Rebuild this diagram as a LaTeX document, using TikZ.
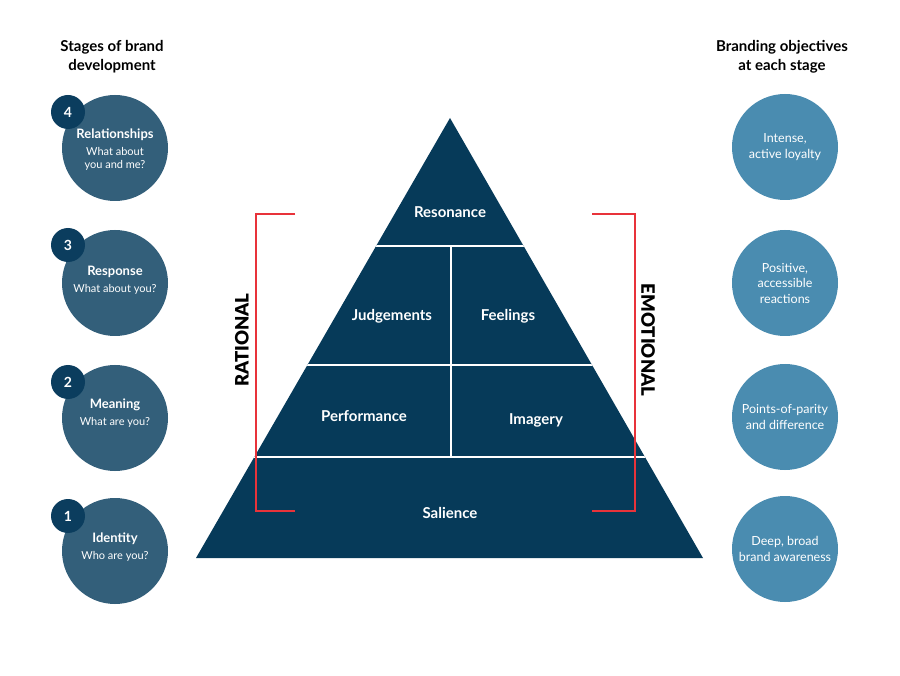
\documentclass[tikz,border=0pt]{standalone}
\usepackage{fontspec}
\setmainfont{Lato}
\newfontfamily\heavyfont{Lato Black}
\definecolor{pyrblue}{HTML}{063A59}
\definecolor{stageblue}{HTML}{335F7A}
\definecolor{numblue}{HTML}{0B3D5E}
\definecolor{goalblue}{HTML}{4A8CB0}
\definecolor{bracketred}{HTML}{E8333A}
\begin{document}
\begin{tikzpicture}[x=1pt,y=-1pt,
  stage/.style={circle,fill=stageblue,minimum size=106pt,inner sep=0pt},
  goal/.style={circle,fill=goalblue,minimum size=106pt,inner sep=0pt,text=white,align=center,font=\fontsize{12.5}{15.5}\selectfont},
  numdot/.style={circle,fill=numblue,minimum size=34pt,inner sep=0pt,text=white,font=\fontsize{14}{16}\selectfont\bfseries},
  stitle/.style={text=white,font=\fontsize{13}{15}\selectfont\bfseries},
  ssub/.style={text=white,align=center,font=\fontsize{11}{13}\selectfont},
  layer/.style={text=white,font=\fontsize{15}{18}\selectfont\bfseries},
  heading/.style={align=center,font=\fontsize{15}{19}\selectfont\bfseries},
  bracket/.style={draw=bracketred,line width=2.5pt},
  side/.style={font=\fontsize{18.5}{22}\selectfont\heavyfont}]
\useasboundingbox[fill=white] (0,0) rectangle (900,676);

\node[heading] (hleft) at (112,57) {Stages of brand\\development};
\node[heading] (hright) at (782,57) {Branding objectives\\at each stage};

\coordinate (top) at (450,118);
\coordinate (br) at (703,558);
\coordinate (bl) at (196,558);
\fill[pyrblue] (top) -- (br) -- (bl) -- cycle;
\begin{scope}
\clip (top) -- (br) -- (bl) -- cycle;
\draw[white,line width=2.5pt] (0,246) -- (900,246);
\draw[white,line width=2.5pt] (0,365) -- (900,365);
\draw[white,line width=2.5pt] (0,457) -- (900,457);
\draw[white,line width=2.5pt] (451,246) -- (451,457);
\end{scope}

\node[layer] (reso) at (450,212) {Resonance};
\node[layer] (judg) at (392,316) {Judgements};
\node[layer] (feel) at (508,316) {Feelings};
\node[layer] (perf) at (364,416) {Performance};
\node[layer] (imag) at (536,420) {Imagery};
\node[layer] (sali) at (450,513) {Salience};

\draw[bracket] (295,214) -- (256,214) -- (256,511) -- (295,511);
\draw[bracket] (592,214) -- (635,214) -- (635,511) -- (592,511);
\node[side,rotate=90] (rat) at (242,340) {RATIONAL};
\node[side,rotate=-90] (emo) at (648,340) {EMOTIONAL};

\node[stage] (s4) at (115,148) {};
\node[stage] (s3) at (115,283) {};
\node[stage] (s2) at (115,418) {};
\node[stage] (s1) at (115,551) {};
\node[numdot] (n4) at (68,112) {4};
\node[numdot] (n3) at (68,245) {3};
\node[numdot] (n2) at (68,382) {2};
\node[numdot] (n1) at (68,516) {1};
\node[stitle] (t4) at (115,135) {Relationships};
\node[ssub] (q4) at (115,158.5) {What about\\you and me?};
\node[stitle] (t3) at (115,272) {Response};
\node[ssub] (q3) at (115,289) {What about you?};
\node[stitle] (t2) at (115,405) {Meaning};
\node[ssub] (q2) at (115,422) {What are you?};
\node[stitle] (t1) at (115,539) {Identity};
\node[ssub] (q1) at (115,556) {Who are you?};

\node[goal] (g4) at (785,147) {Intense,\\active loyalty};
\node[goal] (g3) at (785,283) {Positive,\\accessible\\reactions};
\node[goal] (g2) at (785,417) {Points-of-parity\\and difference};
\node[goal] (g1) at (785,549) {Deep, broad\\brand awareness};
\end{tikzpicture}
\end{document}
